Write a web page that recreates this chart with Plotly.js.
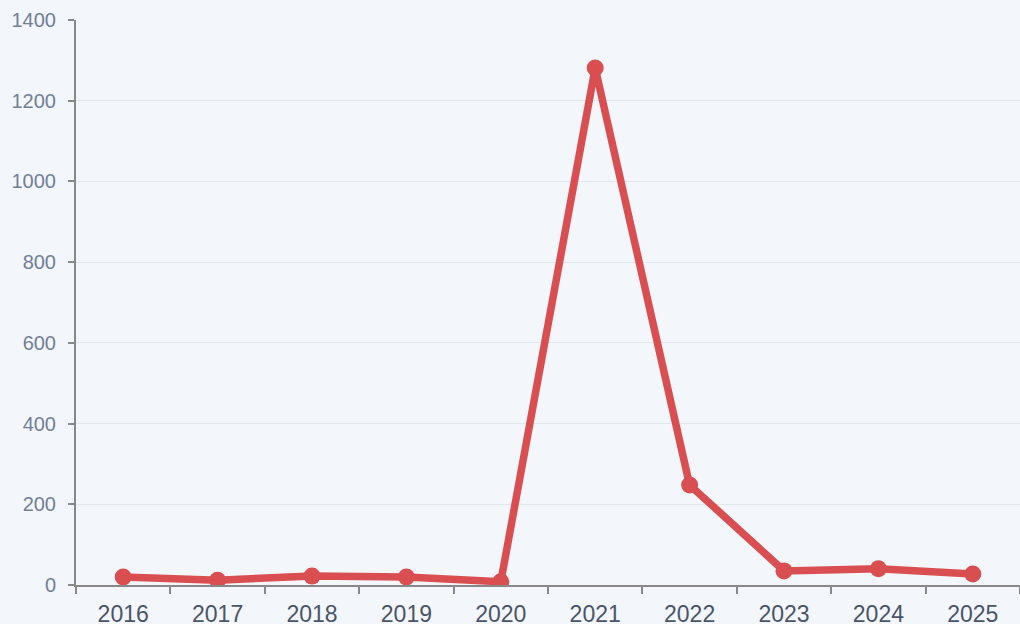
<!DOCTYPE html>
<html>
<head>
<meta charset="utf-8">
<script src="https://cdn.plot.ly/plotly-3.0.1.min.js"></script>
<style>
html,body{margin:0;padding:0;background:#f3f6fa;}
#chart{width:1020px;height:624px;}
</style>
</head>
<body>
<div id="chart"></div>
<script>
const years = ["2016","2017","2018","2019","2020","2021","2022","2023","2024","2025"];
const counts = [20, 12, 22, 20, 8, 1281, 248, 35, 40, 27];
const yTicks = [0, 200, 400, 600, 800, 1000, 1200, 1400];

const trace = {
  x: years,
  y: counts,
  type: "scatter",
  mode: "lines+markers",
  line: {color: "#d94f51", width: 7.5},
  marker: {color: "#d94f51", size: 17},
  hoverinfo: "x+y"
};

const layout = {
  width: 1020,
  height: 624,
  margin: {l: 76, r: 0, t: 20, b: 39},
  paper_bgcolor: "#f3f6fa",
  plot_bgcolor: "#f3f6fa",
  font: {family: "Liberation Sans, Arial, sans-serif"},
  showlegend: false,
  xaxis: {
    type: "category",
    range: [-0.5, 9.5],
    tickson: "boundaries",
    ticks: "outside",
    ticklen: 7,
    tickwidth: 2,
    tickcolor: "#888888",
    showline: true,
    linecolor: "#888888",
    linewidth: 2,
    showgrid: false,
    zeroline: false,
    ticklabelstandoff: 7,
    tickfont: {size: 23, color: "#4a5568"},
    fixedrange: true
  },
  yaxis: {
    range: [0, 1400],
    tickvals: yTicks,
    ticktext: yTicks.map(String),
    ticks: "outside",
    ticklen: 6,
    tickwidth: 2,
    tickcolor: "#888888",
    showline: true,
    linecolor: "#888888",
    linewidth: 2,
    showgrid: true,
    gridcolor: "#e2e7ee",
    gridwidth: 1,
    zeroline: false,
    ticklabelstandoff: 8,
    tickfont: {size: 20, color: "#718096"},
    fixedrange: true
  }
};

Plotly.newPlot("chart", [trace], layout, {displayModeBar: false, staticPlot: true});
</script>
</body>
</html>
